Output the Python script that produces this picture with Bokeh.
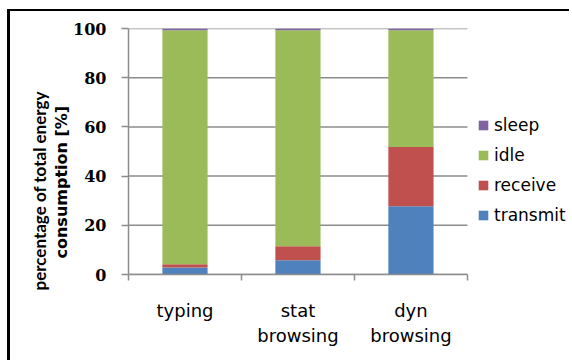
from bokeh.plotting import figure
from bokeh.models import Range1d, FixedTicker, Legend, LegendItem, Title
from bokeh.embed import file_html
from bokeh.resources import INLINE

# Share of total energy consumption per activity (%)
categories = ["typing", "stat\nbrowsing", "dyn\nbrowsing"]
states = ["transmit", "receive", "idle", "sleep"]
transmit = [2.8, 5.8, 27.7]
receive = [1.4, 5.7, 24.1]
idle = [95.1, 87.8, 47.5]
sleep = [0.7, 0.7, 0.7]
y_ticks = [0, 20, 40, 60, 80, 100]
y_title = ["percentage of total energy", "consumption [%]"]

colors = ["#4F81BD", "#C0504D", "#9BBB59", "#8064A2"]
grid_color = "#8c8c8c"
n = len(categories)
xpos = [i + 0.5 for i in range(n)]

data = dict(x=xpos, transmit=transmit, receive=receive, idle=idle, sleep=sleep)

# the plot area runs on to the right edge so the legend can sit inside it;
# axis and grid lines stop after the last category
p = figure(width=562, height=351, output_backend="svg", toolbar_location=None,
           x_range=Range1d(0, 3.93), y_range=Range1d(0, 100),
           min_border_left=118, min_border_right=0,
           min_border_top=17, min_border_bottom=88)
p.styles = {"margin-left": "7px", "margin-top": "9px",
            "border-left": "3px solid black", "border-top": "2px solid black"}
p.outline_line_color = None
p.background_fill_color = "white"
p.border_fill_color = "white"
p.grid.visible = False

# horizontal grid lines
p.segment(x0=[0] * len(y_ticks), x1=[n] * len(y_ticks), y0=y_ticks, y1=y_ticks,
          line_color=grid_color, line_width=1.5)

renderers = p.vbar_stack(states, x="x", width=0.4, source=data,
                         color=colors, line_color=None)

# y axis
p.yaxis.ticker = FixedTicker(ticks=y_ticks)
p.yaxis.axis_line_color = grid_color
p.yaxis.axis_line_width = 1.5
p.yaxis.major_tick_line_color = grid_color
p.yaxis.major_tick_line_width = 1.5
p.yaxis.major_tick_out = 7
p.yaxis.major_tick_in = 0
p.yaxis.minor_tick_line_color = None
p.yaxis.major_label_text_font = "DejaVu Serif"
p.yaxis.major_label_text_font_style = "bold"
p.yaxis.major_label_text_font_size = "16px"
p.yaxis.major_label_text_color = "black"
p.yaxis.major_label_standoff = 15

# x axis: labels at category centres, tick marks between categories
p.xaxis.bounds = (0, n)
p.xaxis.ticker = FixedTicker(ticks=xpos, minor_ticks=list(range(n + 1)))
p.xaxis.major_label_overrides = {x: c for x, c in zip(xpos, categories)}
p.xaxis.axis_line_color = grid_color
p.xaxis.axis_line_width = 1.5
p.xaxis.major_tick_line_color = None
p.xaxis.major_tick_out = 0
p.xaxis.major_tick_in = 0
p.xaxis.minor_tick_line_color = grid_color
p.xaxis.minor_tick_line_width = 1.5
p.xaxis.minor_tick_out = 6
p.xaxis.minor_tick_in = 0
p.xaxis.major_label_text_font = "DejaVu Sans"
p.xaxis.major_label_text_font_size = "18px"
p.xaxis.major_label_text_color = "black"
p.xaxis.major_label_standoff = 19

# y axis title, one Title per line in the left panel (nearest line first)
title_styles = [("DejaVu Sans", "16px", 16), ("Lato", "17px", -16)]
for line, (font, size, off) in zip(reversed(y_title), title_styles):
    p.add_layout(Title(text=line, align="left", offset=off, standoff=0,
                       text_font=font, text_font_style="bold",
                       text_font_size=size, text_color="black"), "left")

# legend, top entry = top of stack
items = [LegendItem(label=s, renderers=[r]) for s, r in zip(states, renderers)][::-1]
legend = Legend(items=items, location=(349, 49), padding=0, margin=0,
                border_line_color=None, background_fill_alpha=0,
                glyph_width=12, glyph_height=12, label_height=18,
                spacing=10, label_standoff=5,
                label_text_font="DejaVu Sans", label_text_font_size="17px",
                label_text_color="black")
p.add_layout(legend)

open("out.html", "w").write(file_html(p, INLINE))
